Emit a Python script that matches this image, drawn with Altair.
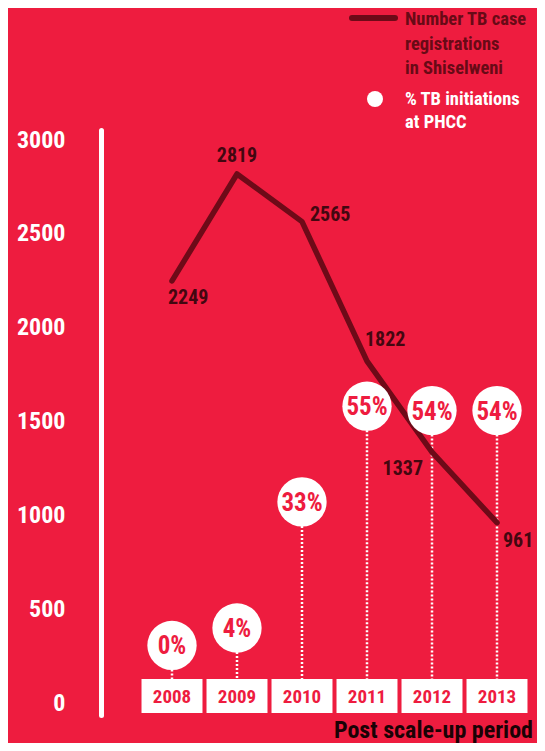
import altair as alt
import pandas as pd

# ---- data -------------------------------------------------------------
years = [2008, 2009, 2010, 2011, 2012, 2013]
cases = [2249, 2819, 2565, 1822, 1337, 961]
pct = [0, 4, 33, 55, 54, 54]
y_ticks = [0, 500, 1000, 1500, 2000, 2500, 3000]
legend_labels = ["Number TB case\nregistrations\nin Shiselweni", "% TB initiations\nat PHCC"]
period_label = "Post scale-up period"

df = pd.DataFrame({"year": years, "cases": cases, "pct": pct})
df["pct_label"] = [f"{p}%" for p in pct]
df["year_label"] = [str(y) for y in years]

# ---- style ------------------------------------------------------------
BG = "#EE1C3F"
LINE = "#6E0A18"
LABEL = "#430710"
LEG_TXT = "#680A16"
FONT = "Roboto Condensed, Liberation Sans Narrow, Arial Narrow, Lato, sans-serif"

W, H = 436, 585
xs = alt.Scale(domain=[2006.9077, 2013.6154], nice=False, zero=False)
ys = alt.Scale(domain=[-63.9, 3053.3], nice=False, zero=False)
ps = alt.Scale(domain=[-16.0, 118.5], nice=False, zero=False)

X = alt.X("year:Q", scale=xs, axis=None)
Ycase = alt.Y("cases:Q", scale=ys, axis=None)
Ypct = alt.Y("pct:Q", scale=ps, axis=None)

base = alt.Chart(df)

line = base.mark_line(color=LINE, strokeWidth=5.5, strokeCap="round",
                      strokeJoin="round").encode(
    x=X,
    y=alt.Y("cases:Q", scale=ys, title=None,
            axis=alt.Axis(values=y_ticks, format="d", ticks=False, grid=False,
                          domainColor="white", domainWidth=5, domainCap="round",
                          labelColor="white", labelFont=FONT, labelFontSize=24,
                          labelFontWeight="bold", labelPadding=36,
                          labelBaseline="middle")),
)

label_style = {
    2008: dict(align="left", dx=-4, dy=23),
    2009: dict(align="center", dx=0, dy=-12),
    2010: dict(align="left", dx=8, dy=-1),
    2011: dict(align="left", dx=-2, dy=-15),
    2012: dict(align="right", dx=-9, dy=23),
    2013: dict(align="left", dx=6, dy=24),
}
labels = [
    base.transform_filter(alt.datum.year == yr).mark_text(
        font=FONT, fontSize=20, fontWeight="bold", color=LABEL,
        baseline="alphabetic", **st).encode(x=X, y=Ycase, text="cases:Q")
    for yr, st in label_style.items()
]

stems = base.mark_rule(color="white", strokeWidth=2.5, strokeDash=[2, 2]).encode(
    x=X, y=Ypct, y2=alt.value(549))

circles = base.mark_circle(size=2430, color="white", opacity=1).encode(x=X, y=Ypct)

pct_text = base.mark_text(font=FONT, fontSize=25, fontWeight="bold", color=BG,
                          baseline="middle", dy=1).encode(x=X, y=Ypct, text="pct_label:N")

boxes = base.transform_calculate(
    x0="datum.year - 0.469", x1="datum.year + 0.469"
).mark_rect(color="white").encode(
    x=alt.X("x0:Q", scale=xs, axis=None), x2="x1:Q",
    y=alt.value(549), y2=alt.value(583))

year_text = base.mark_text(font=FONT, fontSize=19, fontWeight="bold", color=BG,
                           baseline="middle", dy=1).encode(
    x=X, y=alt.value(566), text="year_label:N")

one = pd.DataFrame({"k": [0]})
leg_line = alt.Chart(one).mark_rule(color=LINE, strokeWidth=6, strokeCap="round").encode(
    x=alt.value(251), x2=alt.value(294), y=alt.value(-112))
leg_dot = alt.Chart(one).mark_circle(size=256, color="white", opacity=1).encode(
    x=alt.value(274), y=alt.value(-31))
leg_t1 = alt.Chart(pd.DataFrame({"t": [legend_labels[0]]})).mark_text(
    font=FONT, fontSize=18.5, fontWeight="bold", color=LEG_TXT, align="left",
    baseline="alphabetic", lineBreak="\n", lineHeight=24.5).encode(
    x=alt.value(304), y=alt.value(-105), text="t:N")
leg_t2 = alt.Chart(pd.DataFrame({"t": [legend_labels[1]]})).mark_text(
    font=FONT, fontSize=18.5, fontWeight="bold", color="white", align="left",
    baseline="alphabetic", lineBreak="\n", lineHeight=23).encode(
    x=alt.value(304), y=alt.value(-25), text="t:N")

period = alt.Chart(pd.DataFrame({"t": [period_label]})).mark_text(
    font=FONT, fontSize=24, fontWeight="bold", color="#1A0205", align="right",
    baseline="alphabetic").encode(x=alt.value(432), y=alt.value(608), text="t:N")

chart = alt.layer(
    stems, boxes, year_text, line, *labels, circles, pct_text,
    leg_line, leg_dot, leg_t1, leg_t2, period,
).resolve_scale(y="independent").properties(
    width=W, height=H,
    padding={"left": 93, "top": 122, "right": 0, "bottom": 28},
    autosize=alt.AutoSizeParams(type="none"),
    background=BG,
).configure_view(stroke=None)

chart.save("out.html", embed_options={"renderer": "svg", "actions": False})
